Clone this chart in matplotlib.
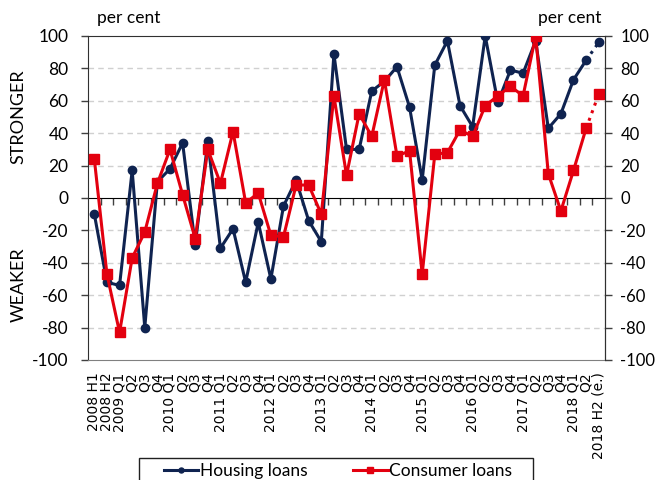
import numpy as np
import matplotlib
matplotlib.use('Agg')
import matplotlib.pyplot as plt
from matplotlib.patches import Rectangle

plt.rcParams['font.family'] = ['Lato', 'DejaVu Sans']
plt.rcParams['axes.unicode_minus'] = False

# Kategorien (Zeitraum) und Werte
kategorien = ['2008 H1', '2008 H2',
              '2009 Q1', 'Q2', 'Q3', 'Q4',
              '2010 Q1', 'Q2', 'Q3', 'Q4',
              '2011 Q1', 'Q2', 'Q3', 'Q4',
              '2012 Q1', 'Q2', 'Q3', 'Q4',
              '2013 Q1', 'Q2', 'Q3', 'Q4',
              '2014 Q1', 'Q2', 'Q3', 'Q4',
              '2015 Q1', 'Q2', 'Q3', 'Q4',
              '2016 Q1', 'Q2', 'Q3', 'Q4',
              '2017 Q1', 'Q2', 'Q3', 'Q4',
              '2018 Q1', 'Q2', '2018 H2 (e.)']

housing = [-10, -52, -54, 17, -80, 10, 18, 34, -29, 35,
           -31, -19, -52, -15, -50, -5, 11, -14, -27, 89,
           30, 30, 66, 72, 81, 56, 11, 82, 97, 57,
           44, 100, 59, 79, 77, 97, 43, 52, 73, 85, 96]

consumer = [24, -47, -83, -37, -21, 9, 30, 2, -25, 30,
            9, 41, -3, 3, -23, -24, 8, 8, -10, 63,
            14, 52, 38, 73, 26, 29, -47, 27, 28, 42,
            38, 57, 63, 69, 63, 100, 15, -8, 17, 43, 64]

navy = '#0f2350'
rot = '#e3000f'

x = np.arange(len(kategorien))

fig = plt.figure(figsize=(6.55, 4.8), dpi=100)
ax = fig.add_axes([0.1344, 0.25, 0.7893, 0.675])

# Gitterlinien
for yv in [-80, -60, -40, -20, 20, 40, 60, 80]:
    ax.axhline(yv, color='#d0d0d0', lw=1, ls=(0, (4, 3)), zorder=0)

# Linien: beobachtet (durchgezogen) und Schaetzung (gepunktet)
ax.plot(x[:-1], housing[:-1], color=navy, lw=2.2, marker='o', ms=6, zorder=3,
        label='Housing loans')
ax.plot(x[-2:], housing[-2:], color=navy, lw=2.2, ls=':', zorder=3)
ax.plot(x[-1], housing[-1], color=navy, marker='o', ms=6, zorder=3)

ax.plot(x[:-1], consumer[:-1], color=rot, lw=2.2, marker='s', ms=6.5, zorder=4,
        label='Consumer loans')
ax.plot(x[-2:], consumer[-2:], color=rot, lw=2.2, ls=':', zorder=4)
ax.plot(x[-1], consumer[-1], color=rot, marker='s', ms=6.5, zorder=4)

ax.set_xlim(-0.5, len(kategorien) - 0.5)
ax.set_ylim(-100, 100)
ax.set_yticks(np.arange(-100, 101, 20))
ax.tick_params(axis='y', labelsize=12.5, length=5, width=1, color='#404040', pad=9)
ax.set_xticks(x)
ax.set_xticklabels(kategorien, rotation=90, fontsize=10, va='top', ha='center',
                   family='DejaVu Sans')
ax.tick_params(axis='x', length=0, pad=9)

for s in ['left', 'right', 'top']:
    ax.spines[s].set_color('#303030')
ax.spines['bottom'].set_color('#808080')

# Nulllinie mit Kategorie-Strichen
sec = ax.secondary_xaxis(0.5)
sec.set_xticks(np.arange(0.5, len(kategorien) - 0.5, 1))
sec.set_xticklabels([])
sec.tick_params(length=5, width=1, color='#404040', direction='in')
sec.spines['bottom'].set_color('#606060')
sec.spines['bottom'].set_linewidth(1.3)

# rechte Achse
ax2 = ax.twinx()
ax2.set_ylim(-100, 100)
ax2.set_yticks(np.arange(-100, 101, 20))
ax2.tick_params(axis='y', labelsize=12, length=5, width=1, color='#404040', pad=6)
ax2.spines['right'].set_color('#303030')
ax2.spines['top'].set_visible(False)
ax2.spines['left'].set_visible(False)
ax2.spines['bottom'].set_visible(False)

fig.text(0.148, 0.962, 'per cent', fontsize=12.5, ha='left', va='center')
fig.text(0.918, 0.962, 'per cent', fontsize=12.5, ha='right', va='center')
fig.text(0.028, 0.756, 'STRONGER', fontsize=13, rotation=90, ha='center', va='center')
fig.text(0.028, 0.407, 'WEAKER', fontsize=13, rotation=90, ha='center', va='center')

# Legende unten, Rahmen am Bildrand abgeschnitten
fig.legend(loc='center', bbox_to_anchor=(0.516, 1 - 471 / 480), ncol=2, fontsize=12.5,
           frameon=False, handlelength=2.0, handletextpad=0.1, columnspacing=2.6,
           borderpad=0, borderaxespad=0, markerscale=0.6)
fig.add_artist(Rectangle((139 / 655, -0.05), (533 - 139) / 655, 22 / 480 + 0.05,
                         transform=fig.transFigure, fill=False, edgecolor='#202020', lw=1))

fig.savefig('out.png', dpi=100)
